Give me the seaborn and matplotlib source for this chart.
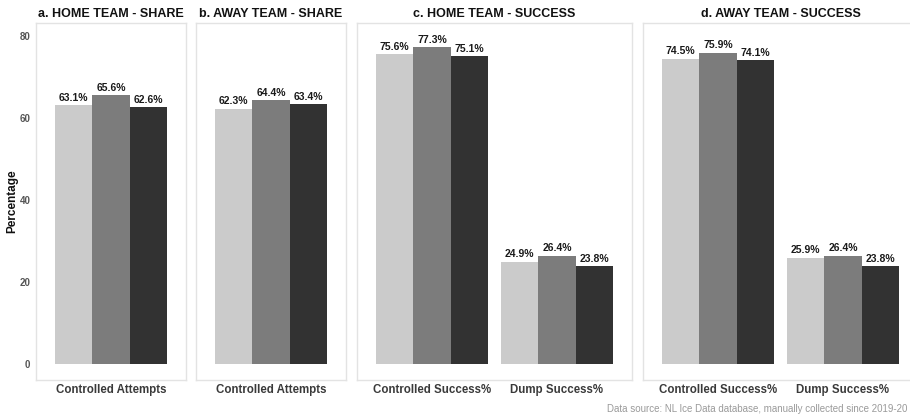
import numpy as np
import pandas as pd
import seaborn as sns
import matplotlib.pyplot as plt

# series (three groups, not named on the chart)
groups = ["Group 1", "Group 2", "Group 3"]
palette = ["#cbcbcb", "#7c7c7c", "#323232"]

home_share = [63.1, 65.6, 62.6]
away_share = [62.3, 64.4, 63.4]
home_ctrl_success = [75.6, 77.3, 75.1]
home_dump_success = [24.9, 26.4, 23.8]
away_ctrl_success = [74.5, 75.9, 74.1]
away_dump_success = [25.9, 26.4, 23.8]

yticks = [0, 20, 40, 60, 80]

panels = [
    ("a. HOME TEAM - SHARE", {"Controlled Attempts": home_share}),
    ("b. AWAY TEAM - SHARE", {"Controlled Attempts": away_share}),
    ("c. HOME TEAM - SUCCESS", {"Controlled Success%": home_ctrl_success,
                                "Dump Success%": home_dump_success}),
    ("d. AWAY TEAM - SUCCESS", {"Controlled Success%": away_ctrl_success,
                                "Dump Success%": away_dump_success}),
]

sns.set_theme(style="white")
plt.rcParams['font.family'] = ['Liberation Sans', 'DejaVu Sans']

fig = plt.figure(figsize=(9.1, 4.16), dpi=100)
W, H = 910, 416
# axes boxes in pixels: (left, right)
boxes = [(36, 186), (196, 346), (357, 632), (643, 918)]
top_px, bottom_px = 23, 380

for i, ((title, data), (l, r)) in enumerate(zip(panels, boxes)):
    ax = fig.add_axes([l / W, 1 - bottom_px / H, (r - l) / W, (bottom_px - top_px) / H])
    rows = []
    for metric, vals in data.items():
        for g, v in zip(groups, vals):
            rows.append({"metric": metric, "group": g, "value": v})
    df = pd.DataFrame(rows)
    sns.barplot(data=df, x="metric", y="value", hue="group", palette=palette,
                width=0.9, legend=False, ax=ax, edgecolor="none", saturation=1)
    for cont in ax.containers:
        for bar in cont:
            h = bar.get_height()
            ax.text(bar.get_x() + bar.get_width() / 2, h + 0.6, f"{h:.1f}%",
                    ha="center", va="bottom", fontsize=7.5, fontweight="bold",
                    color="#1a1a1a")
    n = len(data)
    ax.set_xlim(-0.6, n - 0.4)
    ax.set_ylim(-3.9, 83.2)
    ax.set_yticks(yticks)
    ax.set_xlabel("")
    ax.set_title(title, fontsize=9, fontweight="bold", color="#111111", pad=4)
    for s in ax.spines.values():
        s.set_color("#e3e3e3")
        s.set_linewidth(1)
    ax.tick_params(axis="both", length=0)
    ax.tick_params(axis="x", pad=3)
    for lab in ax.get_xticklabels():
        lab.set_fontsize(8.3)
        lab.set_fontweight("bold")
        lab.set_color("#3a3a3a")
    if i == 0:
        ax.set_ylabel("Percentage", fontsize=8.5, fontweight="bold", color="#111111", labelpad=1)
        for lab in ax.get_yticklabels():
            lab.set_fontsize(7)
            lab.set_fontweight("bold")
            lab.set_color("#555555")
        ax.tick_params(axis="y", pad=4)
    else:
        ax.set_ylabel("")
        ax.set_yticklabels([])

fig.text(907 / W, 1 - 409 / H, "Data source: NL Ice Data database, manually collected since 2019-20",
         ha="right", va="center", fontsize=7, color="#9a9a9a")

fig.savefig("out.png", dpi=100)
